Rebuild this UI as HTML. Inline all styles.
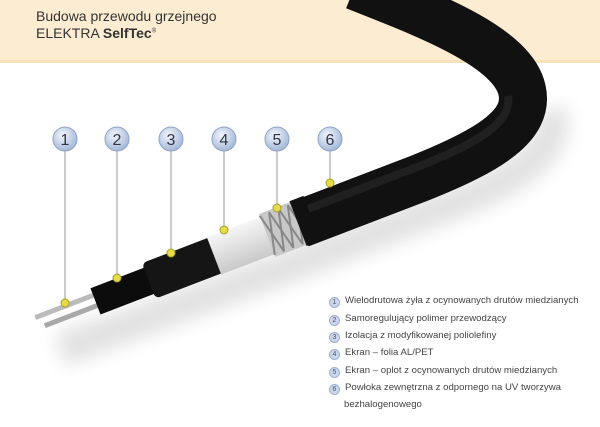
<!DOCTYPE html>
<html><head><meta charset="utf-8"><style>
html,body{margin:0;padding:0;background:#fff;}
body{width:600px;height:427px;overflow:hidden;position:relative;font-family:"Liberation Sans",sans-serif;}
.hdr{position:absolute;left:0;top:0;width:600px;height:60px;background:#fcedd2;border-bottom:3px solid #f6e2b8;}
.t{position:absolute;left:36px;color:#333;font-size:14px;}
.leg{position:absolute;left:329px;font-size:9.6px;color:#444;white-space:nowrap;}
.leg i{display:inline-block;width:9px;height:9px;border-radius:50%;background:#c9d6ec;border:1px solid #9fb0d0;font-style:normal;font-size:7px;text-align:center;line-height:9px;color:#556;margin-right:5px;vertical-align:-1px;}
</style></head><body>
<div class="hdr"></div>
<div class="t" style="top:8px">Budowa przewodu grzejnego</div>
<div class="t" style="top:25px">ELEKTRA <b>SelfTec</b><sup style="font-size:6px">®</sup></div>
<svg width="600" height="427" style="position:absolute;left:0;top:0">
<defs>
<filter id="b" x="-20%" y="-50%" width="140%" height="200%"><feGaussianBlur stdDeviation="9"/></filter>
<radialGradient id="c" cx="40%" cy="35%" r="70%"><stop offset="0" stop-color="#f2f6fc"/><stop offset="1" stop-color="#9fb4d6"/></radialGradient>
<linearGradient id="f" x1="0" y1="0" x2="0" y2="1"><stop offset="0" stop-color="#f6f6f6"/><stop offset="1" stop-color="#c9c9c9"/></linearGradient>
</defs>
<path d="M60,350 L300,262 L430,212 C520,180 560,150 550,110" stroke="#e2e2e2" stroke-width="34" fill="none" filter="url(#b)"/>
<path d="M300,224 L420,178 C490,150 530,125 522,90 C512,45 420,12 355,-14" stroke="#111" stroke-width="48" fill="none"/>
<path d="M300,212 L420,166 C480,142 512,122 508,96" stroke="#2c2c2c" stroke-width="8" fill="none" opacity=".6"/>
<g transform="translate(60,315) rotate(-21)">
<rect x="-24" y="-9" width="74" height="5" fill="#bbb"/>
<rect x="-18" y="2" width="68" height="5" fill="#a8a8a8"/>
<rect x="38" y="-14" width="82" height="28" fill="#0c0c0c"/>
<rect x="95" y="-19" width="85" height="38" rx="5" fill="#151515"/>
<rect x="165" y="-20" width="80" height="40" fill="url(#f)"/>
<rect x="222" y="-23" width="42" height="46" fill="#c8c8c8"/>
<path d="M222,-21 l10,42 M232,-21 l10,42 M242,-21 l10,42 M252,-21 l10,42 M222,21 l10,-42 M232,21 l10,-42 M242,21 l10,-42 M252,21 l10,-42" stroke="#888" stroke-width="2"/>
<rect x="255" y="-24" width="15" height="48" fill="#111"/>
</g>
<g stroke="#999" stroke-width="1">
<line x1="65" y1="150" x2="65" y2="303"/><line x1="117" y1="150" x2="117" y2="278"/>
<line x1="171" y1="150" x2="171" y2="253"/><line x1="224" y1="150" x2="224" y2="230"/>
<line x1="277" y1="150" x2="277" y2="208"/><line x1="330" y1="150" x2="330" y2="183"/>
</g>
<g fill="#e6dc4a" stroke="#a89e2a" stroke-width="1">
<circle cx="65" cy="303" r="4"/><circle cx="117" cy="278" r="4"/><circle cx="171" cy="253" r="4"/>
<circle cx="224" cy="230" r="4"/><circle cx="277" cy="208" r="4"/><circle cx="330" cy="183" r="4"/>
</g>
<g fill="url(#c)" stroke="#8fa3c6" stroke-width="1">
<circle cx="65" cy="139" r="12"/><circle cx="117" cy="139" r="12"/><circle cx="171" cy="139" r="12"/>
<circle cx="224" cy="139" r="12"/><circle cx="277" cy="139" r="12"/><circle cx="330" cy="139" r="12"/>
</g>
<g font-family="Liberation Sans,sans-serif" font-size="16" fill="#334" text-anchor="middle">
<text x="65" y="145">1</text><text x="117" y="145">2</text><text x="171" y="145">3</text>
<text x="224" y="145">4</text><text x="277" y="145">5</text><text x="330" y="145">6</text>
</g>
</svg>
<div class="leg" style="top:295px"><i>1</i>Wielodrutowa żyła z ocynowanych drutów miedzianych</div>
<div class="leg" style="top:313px"><i>2</i>Samoregulujący polimer przewodzący</div>
<div class="leg" style="top:330px"><i>3</i>Izolacja z modyfikowanej poliolefiny</div>
<div class="leg" style="top:347px"><i>4</i>Ekran – folia AL/PET</div>
<div class="leg" style="top:365px"><i>5</i>Ekran – oplot z ocynowanych drutów miedzianych</div>
<div class="leg" style="top:382px"><i>6</i>Powłoka zewnętrzna z odpornego na UV tworzywa</div>
<div class="leg" style="top:399px;left:344px">bezhalogenowego</div>
</body></html>
